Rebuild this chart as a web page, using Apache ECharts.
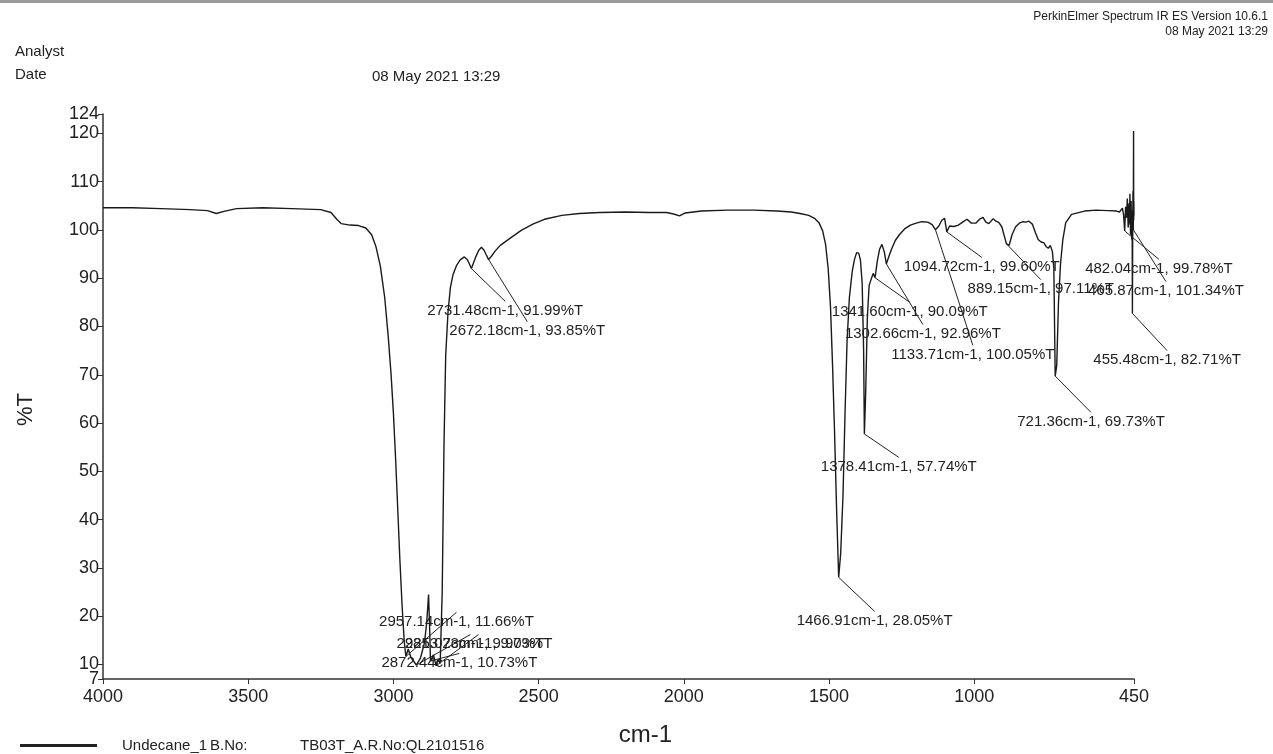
<!DOCTYPE html>
<html>
<head>
<meta charset="utf-8">
<script src="https://cdn.jsdelivr.net/npm/echarts@6/dist/echarts.min.js"></script>
<style>
html,body{margin:0;padding:0;background:#fff;}
#chart{width:1273px;height:754px;}
</style>
</head>
<body>
<div id="chart"></div>
<script>
// ---- Data ----
var wavenumbers = [4000, 3900, 3800, 3700, 3640, 3610, 3580, 3540, 3450, 3350, 3250, 3215, 3195, 3180, 3150, 3120, 3095, 3075, 3060, 3045, 3030, 3018, 3008, 3000, 2992, 2985, 2978, 2970, 2963, 2957.14, 2949, 2940, 2921.07, 2907, 2893, 2885, 2879, 2875, 2872.44, 2862, 2853.23, 2846, 2839, 2832, 2826, 2820, 2812, 2804, 2795, 2783, 2770, 2756, 2745, 2731.48, 2718, 2706, 2697, 2688, 2680, 2672.18, 2662, 2650, 2632, 2600, 2560, 2520, 2480, 2420, 2360, 2290, 2200, 2120, 2060, 2035, 2015, 1995, 1940, 1850, 1760, 1680, 1630, 1600, 1570, 1550, 1535, 1522, 1512, 1503, 1495, 1488, 1481, 1474, 1466.91, 1460, 1452, 1445, 1438, 1430, 1420, 1412, 1405, 1398, 1392, 1386, 1381, 1378.41, 1374, 1368, 1362, 1355, 1348, 1341.6, 1334, 1326, 1318, 1310, 1302.66, 1294, 1285, 1272, 1258, 1240, 1220, 1200, 1180, 1160, 1145, 1133.71, 1122, 1112, 1102, 1094.72, 1085, 1070, 1055, 1040, 1025, 1010, 995, 980, 970, 960, 950, 935, 925, 915, 905, 889.15, 880, 870, 858, 845, 832, 822, 812, 800, 790, 780, 770, 760, 752, 745, 738, 731, 726, 721.36, 716, 710, 703, 695, 685, 665, 620, 580, 540, 510, 500, 494, 490, 486, 482.04, 479, 476, 473, 470, 467, 465.87, 464, 462, 460, 458, 456.5, 455.48, 454.5, 453.5, 452.5, 451.5, 451, 450.5, 450];
var transmittance = [104.6, 104.6, 104.4, 104.2, 104.0, 103.4, 103.9, 104.4, 104.6, 104.4, 104.2, 103.6, 102.2, 101.3, 101.0, 100.9, 100.4, 99.0, 96.5, 92.5, 86.0, 78.0, 70.0, 62.0, 52.0, 42.0, 32.0, 22.0, 15.0, 11.66, 13.2, 11.5, 9.90, 11.3, 14.5, 19.0, 24.5, 17.0, 10.73, 12.0, 9.73, 11.0, 10.2, 25.0, 55.0, 74.0, 83.0, 88.0, 90.7, 92.6, 93.8, 94.4, 93.8, 91.99, 94.2, 95.8, 96.4, 95.8, 94.8, 93.85, 94.6, 95.6, 96.8, 98.2, 99.9, 101.2, 102.2, 103.0, 103.4, 103.6, 103.7, 103.6, 103.6, 103.3, 102.9, 103.5, 103.9, 104.1, 104.1, 103.9, 103.7, 103.4, 103.0, 102.4, 101.5, 99.8, 97.0, 92.0, 84.0, 72.0, 58.0, 42.0, 28.05, 33.0, 45.0, 62.0, 77.0, 86.0, 91.5, 94.0, 95.3, 95.2, 93.8, 89.0, 75.0, 57.74, 66.0, 82.0, 88.5, 89.8, 91.0, 90.09, 93.5, 96.0, 97.0, 95.5, 92.96, 94.5, 96.0, 97.8, 99.0, 100.2, 101.0, 101.4, 101.7, 101.6, 101.1, 100.05, 100.8, 102.0, 102.4, 99.60, 100.8, 100.7, 101.0, 101.6, 102.2, 101.4, 101.4, 102.3, 102.6, 101.6, 101.3, 102.3, 101.8, 101.5, 100.6, 97.11, 96.8, 99.0, 100.6, 101.4, 101.7, 101.6, 101.8, 101.2, 99.5, 98.0, 97.5, 97.3, 96.5, 96.2, 96.8, 95.5, 92.0, 69.73, 72.0, 85.0, 93.0, 98.0, 101.5, 103.2, 103.9, 104.1, 104.0, 103.9, 103.7, 103.8, 104.5, 103.2, 99.78, 104.8, 102.5, 106.5, 100.5, 105.5, 101.34, 107.5, 99.0, 106.0, 98.0, 104.0, 82.71, 99.0, 108.0, 100.0, 120.5, 102.0, 106.0, 103.0];

var xTickValues = [4000, 3500, 3000, 2500, 2000, 1500, 1000, 450];
var yTickValues = [10, 20, 30, 40, 50, 60, 70, 80, 90, 100, 110, 120, 124];
var yMinTickValues = [7];

var peakWn = [2957.14, 2921.07, 2853.23, 2872.44, 2731.48, 2672.18, 1466.91, 1378.41, 1341.60, 1302.66, 1133.71, 1094.72, 889.15, 721.36, 482.04, 465.87, 455.48];
var peakT  = [11.66, 9.90, 9.73, 10.73, 91.99, 93.85, 28.05, 57.74, 90.09, 92.96, 100.05, 99.60, 97.11, 69.73, 99.78, 101.34, 82.71];

// label anchor (leader end) positions in data units – layout only
var labelAnchorWn = [2783, 2735, 2707, 2773, 2615, 2539, 1343, 1260, 1222, 1177, 1005, 974, 771, 598, 364, 340, 336];
var labelAnchorT  = [20.8, 16.2, 16.2, 12.3, 85.2, 81.0, 21.0, 52.9, 85.0, 80.4, 76.1, 94.3, 89.7, 62.2, 93.9, 89.3, 75.0];

// ---- Build ----
var spectrum = wavenumbers.map(function (w, i) { return [w, transmittance[i]]; });
var annData = peakWn.map(function (w, i) {
  return [w, peakT[i], labelAnchorWn[i], labelAnchorT[i], w.toFixed(2) + 'cm-1, ' + peakT[i].toFixed(2) + '%T'];
});

var FONT = '"Liberation Sans", Arial, sans-serif';
var chart = echarts.init(document.getElementById('chart'), null, {renderer: 'canvas'});

function titleStyle(size) {
  return {fontSize: size, fontWeight: 'normal', color: '#222', fontFamily: FONT};
}
function yAxisBase(ticks, showLine) {
  return {
    type: 'value', min: 7, max: 124, position: 'left',
    axisLine: {show: showLine, onZero: false, lineStyle: {color: '#333', width: 1.5}},
    axisTick: {show: true, length: 5, lineStyle: {color: '#333'}, customValues: ticks},
    axisLabel: {fontSize: 18, color: '#222', margin: 4, fontFamily: FONT, customValues: ticks,
      showMinLabel: true, showMaxLabel: true, hideOverlap: false,
      formatter: function (v) { return String(v); }},
    splitLine: {show: false}
  };
}

var yMain = yAxisBase(yTickValues, true);
yMain.name = '%T';
yMain.nameLocation = 'middle';
yMain.nameGap = 66;
yMain.nameRotate = 90;
yMain.nameTextStyle = {fontSize: 22, color: '#222', fontFamily: FONT, padding: [0, 26, 0, 0]};
var yMin = yAxisBase(yMinTickValues, false);

chart.setOption({
  backgroundColor: '#fff',
  animation: false,
  textStyle: {fontFamily: FONT, color: '#222'},
  title: [
    {text: 'Analyst', left: 10, top: 39, textStyle: titleStyle(15)},
    {text: 'Date', left: 10, top: 62, textStyle: titleStyle(15)},
    {text: '08 May 2021 13:29', left: 367, top: 64, textStyle: titleStyle(15)},
    {text: 'PerkinElmer Spectrum IR ES Version 10.6.1', right: 0, top: 6, textStyle: titleStyle(12)},
    {text: '08 May 2021 13:29', right: 0, top: 21, textStyle: titleStyle(12)}
  ],
  graphic: [
    {type: 'rect', left: 0, top: 0, shape: {width: 1273, height: 3}, style: {fill: '#9a9a9a'}}
  ],
  legend: {
    left: 15, top: 733,
    icon: 'rect',
    itemWidth: 77, itemHeight: 3,
    itemStyle: {color: '#222'},
    textStyle: {
      fontSize: 15, color: '#222', fontFamily: FONT,
      rich: {
        sp: {width: 20, fontSize: 15},
        a: {width: 88, fontSize: 15, fontFamily: FONT, color: '#222'},
        b: {width: 90, fontSize: 15, fontFamily: FONT, color: '#222'},
        c: {fontSize: 15, fontFamily: FONT, color: '#222'}
      }
    },
    formatter: function (name) {
      return '{sp| }{a|' + name + '}{b|B.No:}{c|TB03T_A.R.No:QL2101516}';
    },
    data: ['Undecane_1']
  },
  grid: {left: 103, right: 139, top: 114, bottom: 75, containLabel: false},
  xAxis: {
    type: 'value', min: 450, max: 4000, inverse: true,
    name: 'cm-1', nameLocation: 'middle', nameGap: 44,
    nameTextStyle: {fontSize: 24, color: '#222', fontFamily: FONT, padding: [0, 0, 0, 54]},
    axisLine: {show: true, onZero: false, lineStyle: {color: '#333', width: 1.5}},
    axisTick: {show: true, length: 5, lineStyle: {color: '#333'}, customValues: xTickValues},
    axisLabel: {fontSize: 18, color: '#222', margin: 9, fontFamily: FONT, customValues: xTickValues,
      showMinLabel: true, showMaxLabel: true,
      formatter: function (v) { return String(v); }},
    splitLine: {show: false}
  },
  yAxis: [yMain, yMin],
  series: [
    {
      name: 'Undecane_1',
      type: 'line',
      data: spectrum,
      showSymbol: false,
      symbol: 'none',
      lineStyle: {color: '#1a1a1a', width: 1.4},
      itemStyle: {color: '#222'},
      silent: true,
      z: 3
    },
    {
      name: 'peaks',
      type: 'custom',
      clip: false,
      silent: true,
      data: annData,
      encode: {x: 0, y: 1},
      z: 4,
      renderItem: function (params, api) {
        var p = api.coord([api.value(0), api.value(1)]);
        var q = api.coord([api.value(2), api.value(3)]);
        var txt = annData[params.dataIndex][4];
        return {
          type: 'group',
          children: [
            {type: 'line', shape: {x1: p[0], y1: p[1], x2: q[0], y2: q[1]}, style: {stroke: '#222', lineWidth: 1}},
            {type: 'text', x: q[0], y: q[1] + 2, style: {text: txt, textAlign: 'center', textVerticalAlign: 'top', font: '15px ' + FONT, fill: '#222'}}
          ]
        };
      }
    }
  ]
});
</script>
</body>
</html>
